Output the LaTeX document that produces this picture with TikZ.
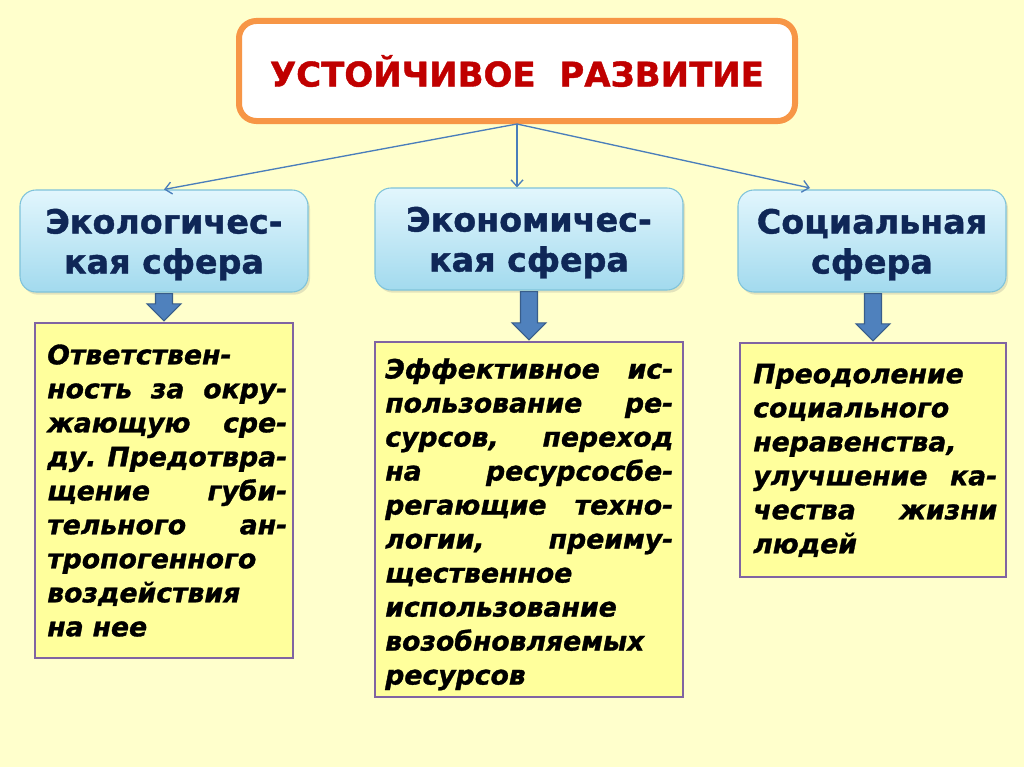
\documentclass[tikz,border=0pt]{standalone}
\usepackage{fontspec}
\setmainfont{DejaVu Sans}
\newfontfamily\hvy[FakeBold=1.2]{DejaVu Sans Bold}
\newfontfamily\hvyit[FakeBold=1.2]{DejaVu Sans Bold Oblique}
\usetikzlibrary{arrows.meta,calc,shadows}
\definecolor{bgcol}{HTML}{FFFFCC}
\definecolor{orangeb}{HTML}{F79646}
\definecolor{headred}{HTML}{C00000}
\definecolor{navy}{HTML}{0F2757}
\definecolor{bluetop}{HTML}{E2F6FD}
\definecolor{bluebot}{HTML}{A2DAEE}
\definecolor{blueline}{HTML}{7FC3DA}
\definecolor{connblue}{HTML}{4A7EBB}
\definecolor{blkfill}{HTML}{4F81BD}
\definecolor{blkline}{HTML}{385D8A}
\definecolor{yelfill}{HTML}{FFFF9C}
\definecolor{purp}{HTML}{8064A2}
\newcommand\jw{100pt}
\newcommand\jl[1]{\leavevmode\hbox to \jw{#1}}
\tikzset{
  topbox/.style={draw=orangeb, line width=4.5pt, fill=white, rounded corners=13pt,
    minimum width=556*0.75pt, minimum height=100*0.75pt, inner sep=0pt,
    text=headred, font=\fontsize{25.5}{28}\hvy},
  sphere/.style={draw=blueline, line width=0.8pt, top color=bluetop, bottom color=bluebot,
    rounded corners=12pt, inner sep=0pt, align=center, text=navy,
    font=\fontsize{25}{30}\hvy,
    drop shadow={opacity=0.22, shadow xshift=1.5pt, shadow yshift=-2pt}},
  detail/.style={draw=purp, line width=1.8pt, fill=yelfill, inner sep=0pt},
  detailtext/.style={anchor=north west, inner sep=0pt, align=left,
    font=\fontsize{20}{25.5}\hvyit\frenchspacing, text=black},
  conn/.style={draw=connblue, line width=1pt, -{Straight Barb[length=5pt,width=9pt]}},
  blk/.style={fill=blkfill, draw=blkline, line width=0.8pt, line join=miter}
}
\begin{document}
\begin{tikzpicture}[x=0.75pt,y=-0.75pt]
\fill[bgcol] (0,0) rectangle (1024,767);
\useasboundingbox (0,0) rectangle (1024,767);

\node[topbox] (top) at (517,71) {УСТОЙЧИВОЕ\ \ РАЗВИТИЕ};

\node[sphere, minimum width=288*0.75pt, minimum height=102*0.75pt] (eco) at (164,241)
  {\rule{0pt}{24pt}Экологичес-\\кая сфера};
\node[sphere, minimum width=308*0.75pt, minimum height=102*0.75pt] (econ) at (529,239)
  {\rule{0pt}{24pt}Экономичес-\\кая сфера};
\node[sphere, minimum width=268*0.75pt, minimum height=102*0.75pt] (soc) at (872,241)
  {\rule{0pt}{24pt}Социальная\\сфера};

\coordinate (socin) at (810,188);
\draw[conn] (top.south) -- (eco.north);
\draw[conn] (top.south) -- (top.south |- econ.north);
\draw[conn] (top.south) -- (socin);

\node[detail, minimum width=258*0.75pt, minimum height=335*0.75pt] (ecot) at (164,490.5) {};
\node[detail, minimum width=308*0.75pt, minimum height=355*0.75pt] (econt) at (529,519.5) {};
\node[detail, minimum width=266*0.75pt, minimum height=234*0.75pt] (soct) at (873,460) {};

\node[detailtext, text width=240*0.75pt] (ecotx) at (47,344)
  {\renewcommand\jw{180pt}\rule{0pt}{15pt}Ответствен-\\
   \jl{ность\hfill за\hfill окру-}\\
   \jl{жающую\hfill сре-}\\
   \jl{ду.\hfill Предотвра-}\\
   \jl{щение\hfill губи-}\\
   \jl{тельного\hfill ан-}\\
   тропогенного\\
   воздействия\\
   на нее};
\node[detailtext, text width=288*0.75pt] (econtx) at (385,358)
  {\renewcommand\jw{216pt}\rule{0pt}{15pt}\jl{Эффективное\hfill ис-}\\
   \jl{пользование\hfill ре-}\\
   \jl{сурсов,\hfill переход}\\
   \jl{на\hfill ресурсосбе-}\\
   \jl{регающие\hfill техно-}\\
   \jl{логии,\hfill преиму-}\\
   щественное\\
   использование\\
   возобновляемых\\
   ресурсов};
\node[detailtext, text width=244*0.75pt] (soctx) at (753,363)
  {\renewcommand\jw{183pt}\rule{0pt}{15pt}Преодоление\\
   социального\\
   неравенства,\\
   \jl{улучшение\hfill ка-}\\
   \jl{чества\hfill жизни}\\
   людей};

% block arrows
\foreach \s/\t in {eco/ecot, econ/econt, soc/soct}{
  \path (\s.south) ++(0,1) coordinate (a) (\t.north) ++(0,-1) coordinate (b);
  \path (a -| b) coordinate (a);
  \filldraw[blk] ($(a)+(-8.5,0)$) -- ($(a)+(8.5,0)$) -- ($(b)+(8.5,-17)$) -- ($(b)+(17,-17)$)
     -- (b) -- ($(b)+(-17,-17)$) -- ($(b)+(-8.5,-17)$) -- cycle;
}
\end{tikzpicture}
\end{document}
